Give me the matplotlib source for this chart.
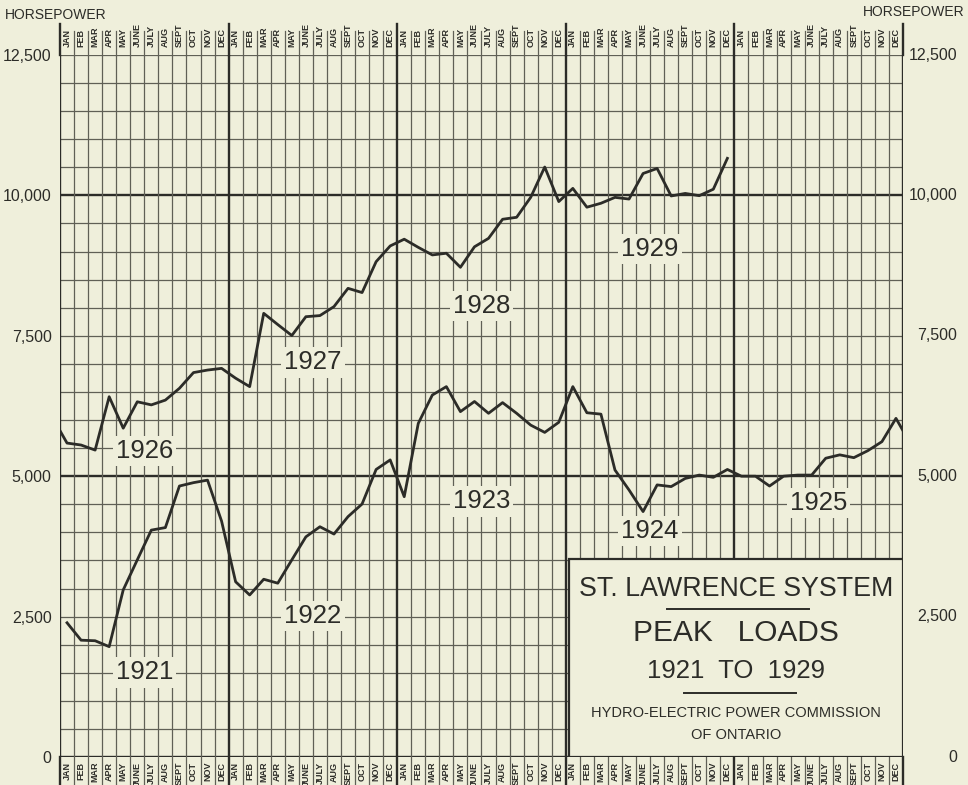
import matplotlib.pyplot as plt
import matplotlib.transforms as mtransforms
from matplotlib.patches import Rectangle
import numpy as np

plt.rcParams['font.family'] = ['Liberation Sans', 'DejaVu Sans']

months = ['JAN', 'FEB', 'MAR', 'APR', 'MAY', 'JUNE', 'JULY', 'AUG', 'SEPT', 'OCT', 'NOV', 'DEC']

# monthly peak loads, horsepower
load_1921 = [2390, 2080, 2070, 1965, 2975, 3510, 4040, 4085, 4825, 4885, 4930, 4200]
load_1922 = [3120, 2885, 3165, 3095, 3510, 3920, 4100, 3970, 4280, 4505, 5120, 5290]
load_1923 = [4635, 5940, 6445, 6595, 6150, 6330, 6120, 6310, 6120, 5910, 5780, 5960]
load_1924 = [6595, 6130, 6105, 5110, 4755, 4370, 4845, 4815, 4960, 5020, 4980, 5120]
load_1925 = [5000, 5000, 4825, 5000, 5020, 5020, 5320, 5380, 5330, 5455, 5615, 6030]
load_1926 = [5590, 5555, 5465, 6415, 5855, 6325, 6270, 6355, 6565, 6845, 6890, 6920]
load_1927 = [6745, 6595, 7900, 7700, 7505, 7840, 7860, 8020, 8345, 8270, 8820, 9100]
load_1928 = [9220, 9075, 8940, 8970, 8720, 9085, 9235, 9575, 9610, 9965, 10505, 9890]
load_1929 = [10125, 9790, 9860, 9965, 9935, 10390, 10480, 9990, 10035, 9995, 10110, 10660]

lower_years = ['1921', '1922', '1923', '1924', '1925']
upper_years = ['1926', '1927', '1928', '1929']
hp_ticks = [0, 2500, 5000, 7500, 10000, 12500]

bg = '#efefdb'
ink = '#2c2c28'
gridc = '#606056'

fig = plt.figure(figsize=(9.68, 7.85), dpi=100, facecolor=bg)
ax = fig.add_axes([60 / 968, 1 - 757 / 785, 843 / 968, 702 / 785])
ax.set_facecolor(bg)
ax.set_xlim(0, 60)
ax.set_ylim(0, 12500)
for s in ax.spines.values():
    s.set_visible(False)

# graph paper
for y in range(0, 12501, 500):
    thick = y in (0, 5000, 10000)
    ax.axhline(y, color=ink if thick else gridc, lw=1.7 if thick else 0.9, zorder=1)
for x in range(61):
    year_line = x % 12 == 0
    c = ink if year_line else gridc
    w = 1.7 if year_line else 0.9
    ax.axvline(x, color=c, lw=w, zorder=1)
    # extend into the month strips above and below
    top = 13050 if year_line else 12930
    ax.plot([x, x], [12500, top], color=c, lw=w, clip_on=False, zorder=1)
    ax.plot([x, x], [0, -700], color=c, lw=w, clip_on=False, zorder=1)

# month names, top and bottom strips
xt = ax.get_xaxis_transform()
for i in range(60):
    m = months[i % 12]
    ax.text(i + 0.5, 1.011, m, transform=xt, rotation=90, ha='center', va='bottom',
            fontsize=6.5, fontweight='bold', color=ink, clip_on=False)
    ax.text(i + 0.5, -0.007, m, transform=xt, rotation=90, ha='center', va='top',
            fontsize=6.5, fontweight='bold', color=ink, clip_on=False)

# the two rows of curves, continuous from Dec 1925 to Jan 1926
lower = np.concatenate([load_1921, load_1922, load_1923, load_1924, load_1925])
upper = np.concatenate([load_1926, load_1927, load_1928, load_1929])
ax.plot(np.arange(len(lower) + 1) + 0.5, np.append(lower, upper[0]),
        color=ink, lw=2.0, zorder=3)
ax.plot(np.arange(-1, len(upper)) + 0.5, np.insert(upper, 0, lower[-1]),
        color=ink, lw=2.0, zorder=3)

# year labels on the curves
lower_pos = [1505, 2510, 4550, 4025, 4530]
upper_pos = [5450, 7025, 8030, 9045]
for k, (yr, yp) in enumerate(zip(lower_years, lower_pos)):
    ax.text(12 * k + 6, yp, yr, ha='center', va='center', fontsize=18.5, color=ink, zorder=6,
            bbox=dict(boxstyle='square,pad=0.12', fc=bg, ec='none'))
for k, (yr, yp) in enumerate(zip(upper_years, upper_pos)):
    ax.text(12 * k + 6, yp, yr, ha='center', va='center', fontsize=18.5, color=ink, zorder=6,
            bbox=dict(boxstyle='square,pad=0.12', fc=bg, ec='none'))

# axis labels both sides
tick_labels = [f'{v:,}' for v in hp_ticks]
ax.set_yticks(hp_ticks, tick_labels)
ax.set_xticks([])
ax.tick_params(axis='y', length=0, pad=6, labelsize=11.5, labelcolor=ink)
yt = mtransforms.blended_transform_factory(ax.transAxes, ax.transData)
for v, lab in zip(hp_ticks, tick_labels):
    ax.text(1.0 + 54 / 843, v, lab, transform=yt, ha='right', va='center',
            fontsize=11.5, color=ink, clip_on=False)

fig.text(5 / 968, 1 - 15 / 785, 'HORSEPOWER', ha='left', va='center', fontsize=10, color=ink)
fig.text(965 / 968, 1 - 12 / 785, 'HORSEPOWER', ha='right', va='center', fontsize=10, color=ink)

# title panel
ax.add_patch(Rectangle((36.2, 0), 23.8, 3520, fc=bg, ec=ink, lw=1.6, zorder=4))
cx = 48.1
ax.text(cx, 3000, 'ST. LAWRENCE SYSTEM', ha='center', va='center', fontsize=19.3, color=ink, zorder=5)
ax.plot([43.2, 53.3], [2641, 2641], color=ink, lw=1.4, zorder=5)
ax.text(cx, 2208, 'PEAK   LOADS', ha='center', va='center', fontsize=21.5, color=ink, zorder=5)
ax.text(cx, 1540, '1921  TO  1929', ha='center', va='center', fontsize=18.5, color=ink, zorder=5)
ax.plot([44.4, 52.4], [1145, 1145], color=ink, lw=1.4, zorder=5)
ax.text(cx, 783, 'HYDRO-ELECTRIC POWER COMMISSION', ha='center', va='center', fontsize=10.5,
        color=ink, zorder=5)
ax.text(cx, 400, 'OF ONTARIO', ha='center', va='center', fontsize=10.5, color=ink, zorder=5)

fig.savefig('out.png', dpi=100, facecolor=bg)
